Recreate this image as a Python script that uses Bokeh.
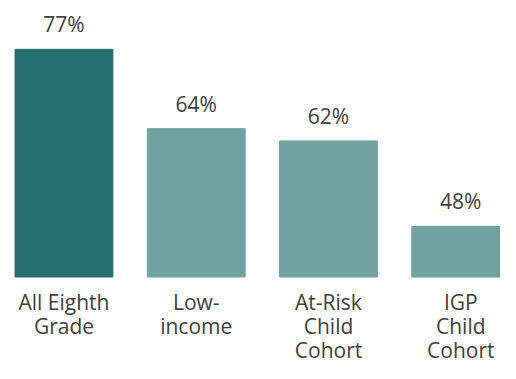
from bokeh.plotting import figure
from bokeh.models import ColumnDataSource, Range1d
from bokeh.core.properties import value
from bokeh.embed import file_html
from bokeh.resources import INLINE

categories = ["All Eighth\nGrade", "Low-\nincome", "At-Risk\nChild\nCohort", "IGP\nChild\nCohort"]
values = [77, 64, 62, 48]
value_labels = ["77%", "64%", "62%", "48%"]
colors = ["#266F6E", "#6FA2A1", "#6FA2A1", "#6FA2A1"]
axis_start = 39.7

xs = list(range(len(categories)))
src = ColumnDataSource(dict(x=xs, top=values, cat=categories, lab=value_labels,
                            color=colors, base=[axis_start] * len(values)))

W, H = 500, 363
sx, sy = W / 516, H / 379
px_per_cat = 136.5 * sx
px_per_unit = 6.373 * sy
bottom_px = 288.7 * sy
x0 = -65.5 * sx / px_per_cat
y_top = axis_start + bottom_px / px_per_unit
y_bot = axis_start - (H - bottom_px) / px_per_unit

p = figure(width=W, height=H, output_backend="svg", toolbar_location=None,
           x_range=Range1d(x0, x0 + W / px_per_cat), y_range=Range1d(y_bot, y_top),
           min_border=0)
p.axis.visible = False
p.grid.visible = False
p.outline_line_color = None
p.background_fill_color = "white"
p.border_fill_color = "white"

p.vbar(x="x", top="top", bottom="base", width=101 * sx / px_per_cat, color="color", source=src)

p.text(x="x", y="top", text="lab", source=src, text_align="center",
       text_baseline="alphabetic", y_offset=-25, text_font=value("Open Sans"),
       text_font_size="21px", text_color="#404040")

p.text(x="x", y="base", text="cat", source=src, text_align="center",
       text_baseline="top", y_offset=11, text_font=value("Open Sans"),
       text_font_size="21px", text_color="#404040", text_line_height=0.86)

open("out.html", "w").write(file_html(p, INLINE))
